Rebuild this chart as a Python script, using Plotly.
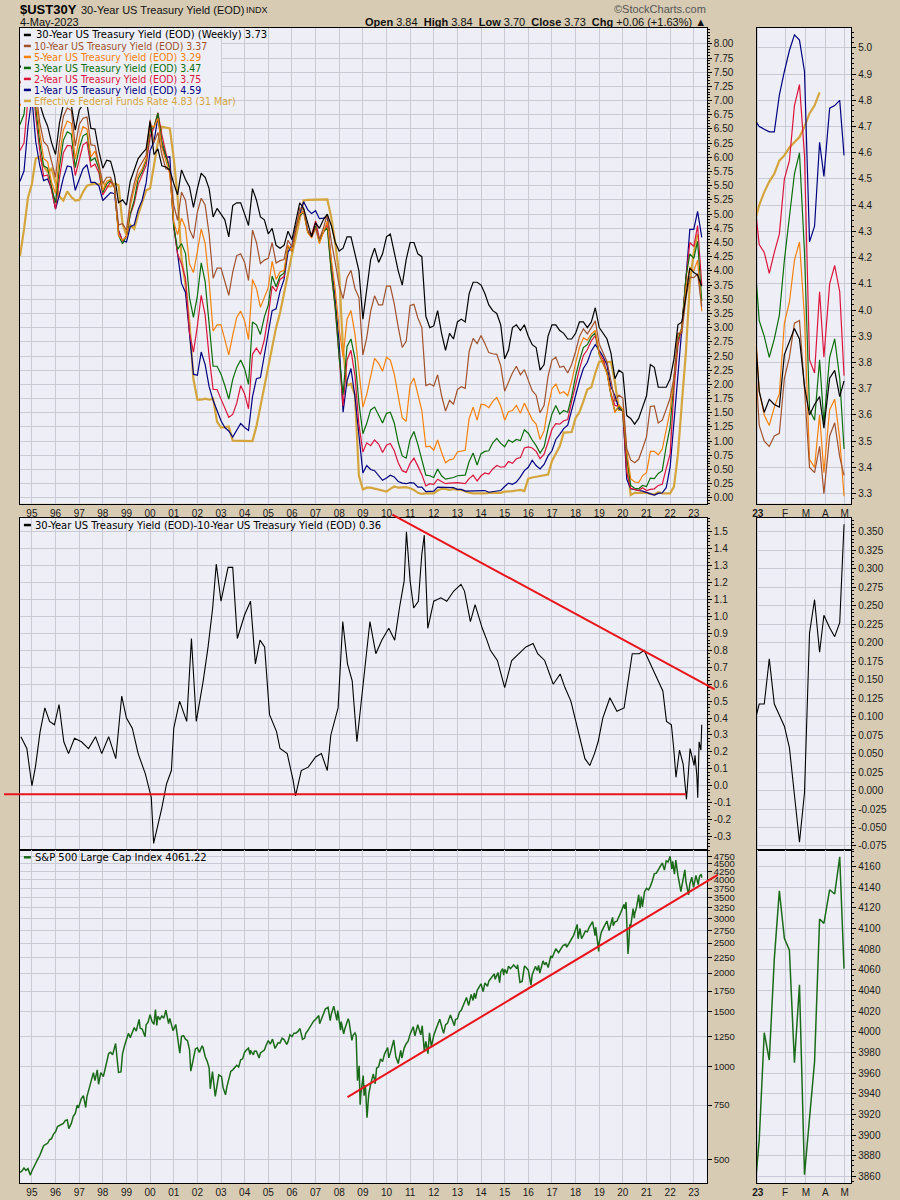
import math
from datetime import datetime
import plotly.graph_objects as go

W, H = 900, 1200

# ---------------------------------------------------------------- data
# bimonthly observation dates for the yield panel
yield_dates = (["1994-07-01", "1994-09-01", "1994-11-01"]
               + [f"{y}-{m:02d}-01" for y in range(1995, 2023) for m in (1, 3, 5, 7, 9, 11)]
               + ["2023-01-01", "2023-03-01", "2023-05-04"])

ust30 = [7.58, 7.71, 8.08,
         7.85, 7.45, 6.95, 6.72, 6.55, 6.26,
         6.05, 6.60, 6.93, 7.03, 6.92, 6.48,
         6.83, 6.93, 6.94, 6.51, 6.50, 6.11,
         5.81, 5.95, 5.93, 5.68, 5.20, 5.25,
         5.16, 5.58, 5.80, 5.98, 6.07, 6.15,
         6.63, 6.05, 6.15, 5.85, 5.83, 5.78,
         5.54, 5.34, 5.78, 5.61, 5.48, 5.12,
         5.45, 5.72, 5.65, 5.45, 4.95, 5.10,
         5.00, 4.90, 4.60, 5.15, 5.20, 5.20,
         5.00, 4.80, 5.45, 5.25, 4.95, 4.90,
         4.65, 4.75, 4.45, 4.40, 4.45, 4.70,
         4.55, 4.85, 5.20, 5.10, 4.85, 4.60,
         4.85, 4.75, 4.90, 5.00, 4.80, 4.50,
         4.35, 4.40, 4.60, 4.60, 4.30, 4.00,
         3.15, 3.65, 4.20, 4.40, 4.15, 4.30,
         4.60, 4.65, 4.30, 4.00, 3.75, 4.20,
         4.50, 4.50, 4.30, 4.25, 3.20, 3.00,
         3.03, 3.30, 2.90, 2.60, 2.90, 2.80,
         3.10, 3.15, 3.10, 3.60, 3.80, 3.80,
         3.75, 3.60, 3.40, 3.30, 3.25, 3.05,
         2.45, 2.60, 3.00, 3.05, 2.95, 3.05,
         2.85, 2.70, 2.65, 2.25, 2.35, 2.85,
         3.05, 3.05, 2.95, 2.90, 2.80, 2.80,
         2.90, 3.10, 3.10, 3.00, 3.10, 3.35,
         3.00, 2.90, 2.80, 2.55, 2.10, 2.25,
         2.20, 1.45, 1.40, 1.30, 1.40, 1.60,
         1.80, 2.35, 2.30, 1.95, 1.95, 1.95,
         2.10, 2.45, 3.05, 3.10, 3.55, 4.05,
         3.97, 3.93, 3.73]

ust10 = [7.30, 7.46, 7.96,
         7.78, 7.20, 6.62, 6.28, 6.20, 5.93,
         5.65, 6.27, 6.72, 6.87, 6.83, 6.20,
         6.58, 6.69, 6.71, 6.22, 6.21, 5.88,
         5.54, 5.65, 5.65, 5.46, 4.81, 4.83,
         4.72, 5.23, 5.54, 5.79, 5.90, 6.03,
         6.66, 6.26, 6.44, 6.05, 5.80, 5.78,
         5.16, 4.89, 5.39, 5.24, 4.73, 4.57,
         5.04, 5.28, 5.16, 4.65, 3.87, 4.05,
         4.05, 3.81, 3.57, 3.98, 4.27, 4.30,
         4.15, 3.83, 4.72, 4.50, 4.13, 4.19,
         4.22, 4.50, 4.14, 4.18, 4.20, 4.54,
         4.42, 4.72, 5.11, 5.09, 4.72, 4.60,
         4.76, 4.56, 4.75, 5.00, 4.52, 4.15,
         3.74, 3.51, 3.88, 4.01, 3.69, 3.53,
         2.52, 2.82, 3.29, 3.56, 3.40, 3.40,
         3.73, 3.73, 3.42, 3.01, 2.65, 2.76,
         3.39, 3.41, 3.17, 3.00, 1.98, 2.01,
         1.97, 2.17, 1.80, 1.53, 1.72, 1.65,
         1.91, 1.96, 1.93, 2.58, 2.81, 2.72,
         2.86, 2.72, 2.56, 2.54, 2.53, 2.33,
         1.88, 2.04, 2.20, 2.32, 2.17, 2.26,
         2.09, 1.89, 1.81, 1.50, 1.63, 2.14,
         2.43, 2.48, 2.30, 2.32, 2.20, 2.35,
         2.58, 2.84, 2.98, 2.89, 3.00, 3.12,
         2.71, 2.57, 2.40, 2.06, 1.70, 1.81,
         1.76, 0.87, 0.67, 0.62, 0.68, 0.87,
         1.08, 1.61, 1.62, 1.32, 1.37, 1.56,
         1.76, 2.13, 2.90, 2.90, 3.52, 3.89,
         3.88, 3.95, 3.37]

ust5 = [6.91, 7.03, 7.72,
        7.76, 7.05, 6.45, 5.98, 5.92, 5.56,
        5.36, 6.02, 6.48, 6.64, 6.60, 5.97,
        6.33, 6.54, 6.50, 6.01, 6.11, 5.87,
        5.42, 5.58, 5.61, 5.46, 4.62, 4.54,
        4.60, 5.14, 5.44, 5.68, 5.80, 5.97,
        6.58, 6.53, 6.69, 6.18, 5.93, 5.70,
        4.86, 4.64, 4.93, 4.76, 4.12, 3.97,
        4.34, 4.74, 4.48, 3.81, 2.94, 3.05,
        3.05, 2.78, 2.52, 2.87, 3.18, 3.29,
        3.12, 2.79, 3.85, 3.69, 3.36, 3.53,
        3.71, 4.17, 3.85, 3.98, 4.01, 4.45,
        4.35, 4.72, 5.00, 5.04, 4.67, 4.58,
        4.75, 4.48, 4.67, 4.88, 4.20, 3.67,
        2.98, 2.48, 3.15, 3.30, 2.88, 2.29,
        1.60, 1.82, 2.13, 2.46, 2.37, 2.23,
        2.48, 2.43, 2.18, 1.76, 1.41, 1.35,
        1.99, 2.11, 1.84, 1.54, 0.90, 0.91,
        0.84, 1.02, 0.80, 0.62, 0.67, 0.69,
        0.81, 0.82, 0.84, 1.40, 1.60, 1.37,
        1.65, 1.64, 1.59, 1.70, 1.77, 1.62,
        1.37, 1.52, 1.54, 1.63, 1.49, 1.67,
        1.52, 1.38, 1.30, 1.03, 1.18, 1.60,
        1.92, 2.01, 1.84, 1.87, 1.80, 2.05,
        2.38, 2.65, 2.82, 2.78, 2.89, 2.95,
        2.54, 2.37, 2.19, 1.83, 1.50, 1.64,
        1.56, 0.82, 0.34, 0.28, 0.27, 0.39,
        0.45, 0.82, 0.82, 0.76, 0.86, 1.20,
        1.54, 2.11, 2.87, 2.96, 3.70, 4.06,
        4.00, 4.19, 3.29]

ust3 = [6.58, 6.76, 7.44,
        7.66, 6.89, 6.27, 5.85, 5.81, 5.48,
        5.20, 5.82, 6.30, 6.45, 6.41, 5.82,
        6.16, 6.38, 6.42, 5.94, 5.99, 5.80,
        5.38, 5.53, 5.60, 5.48, 4.62, 4.48,
        4.61, 5.00, 5.25, 5.62, 5.75, 5.94,
        6.49, 6.53, 6.78, 6.28, 6.02, 5.78,
        4.77, 4.38, 4.48, 4.31, 3.53, 3.18,
        3.56, 4.14, 3.81, 3.07, 2.32, 2.32,
        2.18, 1.98, 1.74, 2.09, 2.30, 2.43,
        2.27, 2.00, 3.10, 3.05, 2.88, 3.19,
        3.40, 3.91, 3.72, 3.91, 3.96, 4.43,
        4.35, 4.74, 4.97, 5.04, 4.69, 4.60,
        4.79, 4.51, 4.69, 4.76, 3.97, 3.35,
        2.48, 1.82, 2.67, 2.80, 2.46, 1.67,
        1.13, 1.31, 1.55, 1.60, 1.45, 1.32,
        1.49, 1.51, 1.32, 0.98, 0.74, 0.70,
        1.03, 1.17, 0.94, 0.68, 0.40, 0.39,
        0.36, 0.51, 0.39, 0.33, 0.34, 0.36,
        0.39, 0.39, 0.40, 0.64, 0.79, 0.58,
        0.78, 0.82, 0.83, 0.97, 1.05, 0.96,
        0.90, 1.02, 0.98, 1.03, 1.01, 1.20,
        1.14, 1.02, 0.92, 0.79, 0.90, 1.22,
        1.48, 1.63, 1.48, 1.54, 1.51, 1.79,
        2.15, 2.42, 2.65, 2.70, 2.84, 2.91,
        2.52, 2.37, 2.21, 1.80, 1.52, 1.61,
        1.53, 0.73, 0.22, 0.17, 0.16, 0.22,
        0.20, 0.35, 0.34, 0.43, 0.48, 0.91,
        1.25, 2.10, 2.79, 3.00, 3.88, 4.30,
        4.22, 4.52, 3.47]

ust2 = [6.12, 6.25, 7.03,
        7.51, 6.72, 6.13, 5.67, 5.69, 5.42,
        5.09, 5.63, 6.08, 6.21, 6.20, 5.68,
        5.97, 6.22, 6.27, 5.83, 5.88, 5.73,
        5.34, 5.46, 5.57, 5.48, 4.71, 4.52,
        4.62, 4.99, 5.19, 5.52, 5.68, 5.86,
        6.36, 6.53, 6.79, 6.40, 6.08, 5.81,
        4.76, 4.30, 4.12, 3.87, 2.91, 2.57,
        3.03, 3.57, 3.22, 2.49, 1.91, 1.91,
        1.74, 1.57, 1.42, 1.47, 1.67, 1.98,
        1.83, 1.57, 2.53, 2.64, 2.53, 2.79,
        3.22, 3.73, 3.64, 3.85, 3.90, 4.43,
        4.35, 4.74, 4.96, 5.06, 4.71, 4.64,
        4.88, 4.57, 4.67, 4.82, 3.99, 3.34,
        2.48, 1.62, 2.43, 2.60, 2.15, 1.29,
        0.81, 0.97, 0.92, 1.02, 0.95, 0.80,
        0.93, 0.96, 0.83, 0.62, 0.48, 0.45,
        0.61, 0.70, 0.56, 0.41, 0.21, 0.25,
        0.24, 0.33, 0.29, 0.25, 0.26, 0.27,
        0.27, 0.26, 0.25, 0.34, 0.40, 0.30,
        0.39, 0.44, 0.42, 0.51, 0.57, 0.54,
        0.55, 0.64, 0.61, 0.69, 0.71, 0.88,
        0.90, 0.88, 0.82, 0.69, 0.77, 0.98,
        1.21, 1.31, 1.30, 1.36, 1.38, 1.70,
        2.00, 2.27, 2.51, 2.61, 2.77, 2.86,
        2.55, 2.44, 2.21, 1.84, 1.63, 1.61,
        1.52, 0.45, 0.17, 0.15, 0.13, 0.18,
        0.13, 0.15, 0.16, 0.22, 0.24, 0.52,
        0.78, 1.91, 2.68, 3.02, 3.86, 4.50,
        4.43, 4.80, 3.75]

ust1 = [5.58, 5.76, 6.54,
        7.05, 6.28, 5.87, 5.59, 5.62, 5.44,
        5.09, 5.34, 5.64, 5.85, 5.83, 5.42,
        5.61, 5.80, 5.87, 5.56, 5.56, 5.50,
        5.24, 5.31, 5.38, 5.36, 4.71, 4.53,
        4.51, 4.78, 4.81, 5.08, 5.25, 5.55,
        6.12, 6.28, 6.71, 6.22, 6.00, 6.01,
        4.81, 4.30, 3.78, 3.62, 2.82, 2.18,
        2.16, 2.57, 2.35, 1.96, 1.72, 1.53,
        1.36, 1.24, 1.18, 1.07, 1.18, 1.31,
        1.24, 1.19, 1.78, 2.10, 2.12, 2.50,
        2.86, 3.30, 3.33, 3.64, 3.85, 4.33,
        4.45, 4.77, 5.00, 5.22, 5.08, 5.01,
        5.06, 4.92, 4.93, 4.96, 4.14, 3.50,
        2.71, 1.51, 2.06, 2.28, 1.78, 1.07,
        0.44, 0.57, 0.50, 0.48, 0.40, 0.31,
        0.35, 0.40, 0.37, 0.29, 0.26, 0.25,
        0.27, 0.26, 0.19, 0.19, 0.11, 0.11,
        0.12, 0.19, 0.19, 0.19, 0.18, 0.18,
        0.15, 0.15, 0.12, 0.12, 0.12, 0.12,
        0.12, 0.13, 0.10, 0.11, 0.11, 0.13,
        0.20, 0.26, 0.24, 0.28, 0.37, 0.48,
        0.54, 0.66, 0.57, 0.51, 0.59, 0.74,
        0.83, 1.03, 1.12, 1.22, 1.28, 1.56,
        1.80, 2.06, 2.28, 2.39, 2.59, 2.70,
        2.60, 2.49, 2.34, 1.96, 1.80, 1.57,
        1.53, 0.33, 0.16, 0.14, 0.13, 0.12,
        0.10, 0.08, 0.05, 0.08, 0.09, 0.18,
        0.55, 1.34, 2.10, 2.99, 3.86, 4.73,
        4.73, 5.05, 4.59]

fed_funds = [4.26, 4.73, 5.29,
             5.53, 5.98, 6.01, 5.85, 5.74, 5.80,
             5.56, 5.31, 5.24, 5.40, 5.30, 5.24,
             5.25, 5.39, 5.50, 5.52, 5.54, 5.52,
             5.56, 5.49, 5.49, 5.54, 5.51, 4.83,
             4.63, 4.81, 4.74, 4.99, 5.22, 5.42,
             5.45, 5.85, 6.27, 6.54, 6.52, 6.51,
             5.98, 5.31, 4.21, 3.77, 3.07, 2.09,
             1.73, 1.73, 1.75, 1.73, 1.75, 1.34,
             1.24, 1.25, 1.26, 1.01, 1.01, 1.00,
             1.00, 1.00, 1.00, 1.26, 1.61, 1.93,
             2.28, 2.63, 3.00, 3.26, 3.62, 4.00,
             4.29, 4.59, 4.94, 5.24, 5.25, 5.25,
             5.25, 5.26, 5.25, 5.26, 4.94, 4.49,
             3.94, 2.61, 1.98, 2.01, 1.81, 0.39,
             0.15, 0.18, 0.18, 0.16, 0.15, 0.12,
             0.11, 0.16, 0.20, 0.18, 0.19, 0.19,
             0.17, 0.14, 0.09, 0.07, 0.08, 0.08,
             0.08, 0.13, 0.16, 0.16, 0.14, 0.16,
             0.14, 0.14, 0.11, 0.09, 0.08, 0.08,
             0.07, 0.08, 0.09, 0.09, 0.09, 0.09,
             0.11, 0.11, 0.12, 0.13, 0.14, 0.12,
             0.34, 0.36, 0.37, 0.39, 0.40, 0.41,
             0.65, 0.79, 0.91, 1.15, 1.15, 1.16,
             1.41, 1.51, 1.70, 1.91, 1.95, 2.20,
             2.40, 2.41, 2.39, 2.40, 2.04, 1.55,
             1.55, 0.65, 0.05, 0.09, 0.09, 0.09,
             0.09, 0.07, 0.06, 0.10, 0.08, 0.08,
             0.08, 0.20, 0.77, 1.68, 2.56, 3.78,
             4.33, 4.65, None]

# weekly closes shown in the right-hand zoom panels
week_dates = ["2022-12-30", "2023-01-06", "2023-01-13", "2023-01-20", "2023-01-27",
              "2023-02-03", "2023-02-10", "2023-02-17", "2023-02-24", "2023-03-03",
              "2023-03-10", "2023-03-17", "2023-03-24", "2023-03-31", "2023-04-06",
              "2023-04-14", "2023-04-21", "2023-04-28", "2023-05-04"]
wk30 = [3.97, 3.69, 3.61, 3.66, 3.64, 3.63, 3.83, 3.88, 3.93, 3.89, 3.71, 3.60, 3.64, 3.67, 3.55, 3.74, 3.77, 3.67, 3.73]
wk10 = [3.88, 3.56, 3.50, 3.48, 3.52, 3.53, 3.74, 3.82, 3.95, 3.96, 3.70, 3.40, 3.38, 3.48, 3.30, 3.52, 3.57, 3.44, 3.37]
wk5 = [4.00, 3.69, 3.60, 3.56, 3.63, 3.68, 3.95, 4.03, 4.19, 4.26, 3.97, 3.43, 3.40, 3.60, 3.38, 3.62, 3.66, 3.51, 3.29]
wk3 = [4.22, 3.96, 3.90, 3.82, 3.89, 3.98, 4.19, 4.35, 4.52, 4.60, 4.22, 3.62, 3.58, 3.81, 3.57, 3.82, 3.89, 3.74, 3.47]
wk2 = [4.43, 4.25, 4.22, 4.14, 4.22, 4.29, 4.50, 4.57, 4.78, 4.86, 4.59, 3.81, 3.76, 4.07, 3.82, 4.10, 4.17, 4.07, 3.75]
wk1 = [4.73, 4.70, 4.69, 4.68, 4.68, 4.82, 4.91, 4.99, 5.05, 5.03, 4.91, 4.26, 4.32, 4.64, 4.51, 4.77, 4.78, 4.80, 4.59]
wkff = [4.33, 4.40, 4.45, 4.49, 4.52, 4.57, 4.59, 4.62, 4.64, 4.66, 4.70, 4.75, 4.78, 4.83, None, None, None, None, None]
wk_spread = [0.09, 0.117, 0.117, 0.178, 0.117, 0.101, 0.087, 0.058, -0.007, -0.070, -0.003, 0.213, 0.258, 0.187, 0.237, 0.220, 0.208, 0.227, 0.360]
wk_spx = [3839.5, 3895.1, 3999.1, 3972.6, 4070.6, 4136.5, 4090.5, 4079.1, 3970.0, 4045.6, 3861.6, 3916.6, 3971.0, 4109.3, 4105.0, 4137.6, 4133.5, 4169.5, 4061.2]

# 30y - 10y spread
spread_dates = [
    "1994-07-15", "1994-10-15",
    "1995-01-01", "1995-02-24", "1995-05-08", "1995-07-20", "1995-10-01", "1995-12-15",
    "1996-02-24", "1996-05-08", "1996-07-20", "1996-10-20",
    "1997-02-05", "1997-05-25", "1997-09-10", "1997-12-15",
    "1998-04-01", "1998-07-20", "1998-10-20",
    "1999-01-01", "1999-04-01", "1999-07-01", "1999-10-20",
    "2000-01-20", "2000-02-25", "2000-04-20", "2000-07-01", "2000-09-10", "2000-11-25",
    "2001-01-01", "2001-04-01", "2001-07-20", "2001-10-01", "2001-12-15",
    "2002-04-01", "2002-06-15", "2002-08-25", "2002-10-20",
    "2003-01-01", "2003-04-20", "2003-07-01", "2003-09-10",
    "2004-01-01", "2004-04-01", "2004-06-15", "2004-08-25", "2004-11-05",
    "2005-01-20", "2005-05-08", "2005-07-01", "2005-10-20",
    "2006-01-20", "2006-02-25", "2006-05-25", "2006-09-10",
    "2007-01-01", "2007-04-01", "2007-07-01", "2007-08-25", "2007-12-15",
    "2008-02-25", "2008-05-08", "2008-07-20", "2008-10-01", "2008-11-25",
    "2009-02-05", "2009-04-20", "2009-07-20", "2009-10-20",
    "2010-02-05", "2010-05-08", "2010-07-20", "2010-10-01", "2010-11-05",
    "2011-01-01", "2011-02-25", "2011-05-08", "2011-07-01", "2011-08-08", "2011-10-01",
    "2012-01-01", "2012-04-20", "2012-07-20", "2012-11-05",
    "2013-02-25", "2013-04-20", "2013-07-20", "2013-10-01",
    "2014-01-20", "2014-04-01", "2014-05-25", "2014-09-10",
    "2015-01-01", "2015-04-20", "2015-08-08", "2015-11-25",
    "2016-03-15", "2016-05-25", "2016-09-10", "2016-11-25",
    "2017-01-20", "2017-05-08", "2017-07-20", "2017-10-20",
    "2018-01-01", "2018-03-15", "2018-05-25", "2018-08-08", "2018-10-20", "2018-12-15",
    "2019-02-25", "2019-06-15", "2019-10-01",
    "2020-01-20", "2020-04-01", "2020-05-25", "2020-09-10", "2020-11-25",
    "2021-02-05", "2021-04-20", "2021-07-01", "2021-09-10", "2021-11-05",
    "2022-01-20", "2022-02-25", "2022-04-01", "2022-05-25", "2022-07-20", "2022-09-10", "2022-11-05",
    "2023-01-06", "2023-01-20", "2023-02-17", "2023-03-03", "2023-03-24", "2023-04-21", "2023-05-04"]
spread_vals = [
    0.29, 0.22,
    0.00, 0.11, 0.32, 0.46, 0.38, 0.36,
    0.48, 0.26, 0.19, 0.28,
    0.26, 0.22, 0.29, 0.19,
    0.29, 0.16, 0.53,
    0.40, 0.34, 0.19, 0.07,
    -0.07, -0.34, -0.25, -0.13, 0.01, 0.09,
    0.34, 0.50, 0.38, 0.87, 0.38,
    0.62, 0.82, 1.05, 1.31,
    1.09, 1.29, 1.29, 0.87,
    1.01, 1.09, 0.72, 0.86, 0.82,
    0.42, 0.32, 0.22, 0.19,
    0.03, -0.06, 0.09, 0.11,
    0.17, 0.19, 0.09, 0.30, 0.46,
    0.97, 0.72, 0.62, 0.26, 0.46,
    0.74, 0.97, 0.78, 0.86,
    0.93, 0.86, 1.05, 1.21, 1.50,
    1.21, 1.05, 1.09, 1.37, 1.48, 0.93,
    1.09, 1.11, 1.09, 1.15,
    1.19, 1.15, 0.97, 1.07,
    0.93, 0.86, 0.80, 0.74,
    0.58, 0.74, 0.78, 0.82,
    0.84, 0.78, 0.74, 0.66,
    0.60, 0.66, 0.58, 0.50,
    0.38, 0.26, 0.16, 0.12, 0.19, 0.26,
    0.40, 0.52, 0.44,
    0.46, 0.64, 0.78, 0.78, 0.80,
    0.74, 0.68, 0.62, 0.56, 0.38,
    0.36, 0.22, 0.05, 0.21, 0.13, -0.08, 0.22,
    0.12, 0.18, 0.06, -0.07, 0.26, 0.21, 0.36]

# S&P 500 closes
spx_dates = [
    "1994-07-01", "1994-08-01", "1994-09-01", "1994-10-01", "1994-11-01", "1994-12-09",
    "1995-01-01", "1995-02-01", "1995-03-01", "1995-04-01", "1995-05-01", "1995-06-01",
    "1995-07-01", "1995-08-01", "1995-09-01", "1995-10-01", "1995-11-01", "1995-12-01",
    "1996-01-01", "1996-02-01", "1996-03-01", "1996-04-01", "1996-05-01", "1996-06-01",
    "1996-07-01", "1996-07-24", "1996-09-01", "1996-10-01", "1996-11-01", "1996-12-01", "1996-12-20",
    "1997-02-01", "1997-03-07", "1997-04-11", "1997-05-01", "1997-06-01", "1997-07-01",
    "1997-08-08", "1997-09-01", "1997-10-07", "1997-10-27", "1997-12-01",
    "1998-01-09", "1998-02-01", "1998-03-01", "1998-04-01", "1998-05-01", "1998-06-01",
    "1998-07-17", "1998-08-31", "1998-10-08", "1998-11-01", "1998-12-01",
    "1999-01-01", "1999-02-01", "1999-03-01", "1999-04-01", "1999-05-01", "1999-06-01",
    "1999-07-16", "1999-08-01", "1999-09-01", "1999-10-15", "1999-11-01", "1999-12-01",
    "2000-01-01", "2000-02-01", "2000-03-01", "2000-03-24", "2000-04-14", "2000-05-01", "2000-06-01",
    "2000-07-01", "2000-08-01", "2000-09-01", "2000-10-13", "2000-11-01", "2000-12-20",
    "2001-01-01", "2001-02-01", "2001-03-01", "2001-04-04", "2001-05-01", "2001-06-01",
    "2001-07-01", "2001-08-01", "2001-09-01", "2001-09-21", "2001-11-01", "2001-12-01",
    "2002-01-01", "2002-02-01", "2002-03-15", "2002-04-01", "2002-05-01", "2002-06-01",
    "2002-07-01", "2002-07-19", "2002-08-22", "2002-10-04", "2002-11-27",
    "2003-01-10", "2003-02-01", "2003-03-11", "2003-04-01", "2003-05-01", "2003-06-01",
    "2003-07-01", "2003-08-01", "2003-09-01", "2003-10-01", "2003-11-01", "2003-12-01",
    "2004-01-01", "2004-02-01", "2004-03-01", "2004-03-24", "2004-04-01", "2004-05-15", "2004-06-01",
    "2004-07-01", "2004-08-11", "2004-09-01", "2004-10-01", "2004-11-01", "2004-12-01",
    "2005-01-01", "2005-02-01", "2005-03-07", "2005-04-15", "2005-05-01", "2005-06-01",
    "2005-07-01", "2005-08-01", "2005-09-01", "2005-10-13", "2005-11-01", "2005-12-01",
    "2006-01-01", "2006-02-01", "2006-03-01", "2006-04-01", "2006-05-05", "2006-06-13",
    "2006-07-17", "2006-08-01", "2006-09-01", "2006-10-01", "2006-11-01", "2006-12-01",
    "2007-01-01", "2007-02-20", "2007-03-05", "2007-04-01", "2007-05-01", "2007-06-01",
    "2007-07-13", "2007-08-15", "2007-09-01", "2007-10-09", "2007-11-26", "2007-12-10",
    "2008-01-22", "2008-02-01", "2008-03-10", "2008-04-01", "2008-05-19", "2008-06-01", "2008-07-15",
    "2008-08-01", "2008-09-01", "2008-09-19", "2008-10-10", "2008-11-04", "2008-11-20", "2008-12-01",
    "2009-01-06", "2009-01-20", "2009-02-09", "2009-03-06", "2009-04-01", "2009-05-01", "2009-06-12",
    "2009-07-10", "2009-08-01", "2009-09-01", "2009-10-01", "2009-11-01", "2009-12-01",
    "2010-01-19", "2010-02-05", "2010-03-01", "2010-04-23", "2010-05-25", "2010-07-02",
    "2010-08-09", "2010-08-27", "2010-10-01", "2010-11-01", "2010-12-01",
    "2011-01-01", "2011-02-18", "2011-03-16", "2011-04-29", "2011-06-15", "2011-07-07",
    "2011-08-08", "2011-09-01", "2011-10-03", "2011-10-27", "2011-11-25",
    "2012-01-01", "2012-02-01", "2012-04-02", "2012-06-01", "2012-07-01", "2012-08-01",
    "2012-09-14", "2012-11-15", "2012-12-01",
    "2013-01-01", "2013-02-01", "2013-03-01", "2013-04-01", "2013-05-21", "2013-06-24",
    "2013-08-01", "2013-08-30", "2013-09-18", "2013-10-08", "2013-11-01", "2013-12-31",
    "2014-02-03", "2014-03-01", "2014-04-11", "2014-05-01", "2014-06-01", "2014-07-24",
    "2014-08-07", "2014-09-19", "2014-10-15", "2014-11-01", "2014-12-01", "2014-12-16",
    "2015-01-01", "2015-02-01", "2015-03-01", "2015-04-01", "2015-05-20", "2015-07-07",
    "2015-07-20", "2015-08-25", "2015-09-28", "2015-11-03", "2015-12-01",
    "2016-01-01", "2016-02-11", "2016-03-01", "2016-04-20", "2016-05-19", "2016-06-08",
    "2016-06-27", "2016-08-15", "2016-09-09", "2016-10-01", "2016-11-04", "2016-12-13",
    "2017-01-01", "2017-03-01", "2017-04-13", "2017-06-19", "2017-08-01", "2017-08-18",
    "2017-10-01", "2017-11-01", "2017-12-01",
    "2018-01-26", "2018-02-08", "2018-03-09", "2018-04-02", "2018-05-01", "2018-06-01",
    "2018-07-01", "2018-08-01", "2018-09-20", "2018-10-29", "2018-11-07", "2018-12-24",
    "2019-01-01", "2019-02-01", "2019-03-01", "2019-04-30", "2019-06-03", "2019-07-26",
    "2019-08-05", "2019-09-01", "2019-10-01", "2019-11-01", "2019-12-01",
    "2020-01-17", "2020-01-31", "2020-02-19", "2020-03-20", "2020-04-01", "2020-04-17",
    "2020-05-01", "2020-06-08", "2020-06-26", "2020-07-01", "2020-08-01", "2020-09-02",
    "2020-09-23", "2020-10-12", "2020-10-30", "2020-11-01", "2020-12-01",
    "2021-01-01", "2021-02-01", "2021-03-01", "2021-04-01", "2021-05-01", "2021-06-01",
    "2021-07-01", "2021-08-01", "2021-09-02", "2021-10-04", "2021-11-01", "2021-12-01", "2021-12-31",
    "2022-01-27", "2022-02-09", "2022-03-08", "2022-03-29", "2022-05-01", "2022-05-20", "2022-06-16",
    "2022-07-01", "2022-08-16", "2022-09-01", "2022-10-12", "2022-11-01", "2022-12-01", "2022-12-28",
    "2023-01-13", "2023-02-03", "2023-03-10", "2023-03-31", "2023-04-28", "2023-05-04"]
spx_close = [
    455, 460, 470, 462, 468, 446,
    460, 472, 487, 502, 515, 535,
    555, 560, 565, 580, 585, 605,
    615, 640, 645, 650, 655, 670,
    672, 630, 655, 690, 705, 750, 735,
    786, 805, 737, 801, 845, 885,
    955, 900, 975, 876, 955,
    927, 980, 1049, 1101, 1111, 1090,
    1186, 957, 960, 1098, 1164,
    1229, 1280, 1238, 1286, 1335, 1301,
    1418, 1328, 1320, 1247, 1362, 1389,
    1469, 1394, 1366, 1527, 1356, 1452, 1420,
    1455, 1431, 1518, 1374, 1429, 1305,
    1320, 1366, 1240, 1103, 1250, 1256,
    1224, 1211, 1134, 966, 1060, 1139,
    1148, 1110, 1166, 1147, 1077, 1040,
    990, 847, 962, 800, 938,
    927, 856, 810, 858, 916, 964,
    975, 990, 1008, 996, 1050, 1058,
    1112, 1131, 1145, 1092, 1126, 1090, 1121,
    1120, 1064, 1105, 1115, 1130, 1174,
    1212, 1181, 1225, 1143, 1157, 1192,
    1191, 1234, 1221, 1177, 1202, 1265,
    1248, 1280, 1280, 1295, 1325, 1223,
    1234, 1277, 1303, 1336, 1378, 1400,
    1418, 1459, 1374, 1420, 1482, 1531,
    1552, 1406, 1474, 1565, 1407, 1515,
    1310, 1395, 1273, 1330, 1426, 1400, 1214,
    1260, 1282, 1255, 899, 1005, 752, 816,
    935, 805, 870, 683, 811, 877, 946,
    879, 987, 998, 1057, 1036, 1096,
    1150, 1066, 1104, 1217, 1074, 1022,
    1127, 1064, 1146, 1184, 1206,
    1271, 1343, 1256, 1363, 1265, 1353,
    1119, 1204, 1099, 1284, 1158,
    1258, 1312, 1419, 1278, 1362, 1379,
    1466, 1353, 1416,
    1426, 1498, 1518, 1569, 1669, 1573,
    1706, 1633, 1725, 1656, 1757, 1848,
    1742, 1859, 1815, 1884, 1924, 1988,
    1910, 2010, 1862, 2018, 2067, 1972,
    2058, 1995, 2104, 2068, 2125, 2068,
    2128, 1867, 1881, 2109, 2080,
    2044, 1829, 1978, 2102, 2040, 2119,
    2001, 2190, 2128, 2168, 2085, 2271,
    2239, 2396, 2329, 2453, 2476, 2425,
    2519, 2575, 2648,
    2873, 2581, 2786, 2582, 2648, 2735,
    2718, 2816, 2930, 2641, 2813, 2351,
    2507, 2706, 2784, 2946, 2744, 3025,
    2844, 2926, 2940, 3066, 3141,
    3330, 3226, 3386, 2305, 2470, 2875,
    2831, 3232, 3009, 3100, 3271, 3580,
    3237, 3534, 3270, 3310, 3662,
    3756, 3714, 3811, 3973, 4181, 4204,
    4297, 4395, 4537, 4300, 4605, 4567, 4766,
    4326, 4587, 4170, 4631, 4132, 3901, 3667,
    3825, 4305, 3955, 3577, 3872, 4080, 3783,
    3999, 4136, 3862, 4109, 4169, 4061]

# hand-drawn trend lines (date, value)
spread_top_dates, spread_top_vals = ["2010-04-01", "2023-11-20"], [1.602, 0.570]
spread_floor_dates, spread_floor_vals = ["1993-10-27", "2022-09-01"], [-0.05, -0.05]
spx_trend_dates, spx_trend_vals = ["2008-05-08", "2024-01-05"], [796, 4150]

# axis ticks
year_ticks = [f"{y}-01-01" for y in range(1995, 2024)]
year_labels = [f"{y % 100:02d}" for y in range(1995, 2024)]
month_ticks = ["2023-01-04", "2023-02-11", "2023-03-12", "2023-04-08", "2023-05-05"]
month_labels = ["<b>23</b>", "F", "M", "A", "M"]
spx_ticks = [500, 750, 1000, 1250, 1500, 1750, 2000, 2250, 2500, 2750, 3000, 3250, 3500, 3750, 4000, 4250, 4500, 4750]

assert len(yield_dates) == len(ust30) == len(ust10) == len(ust5) == len(ust3) == len(ust2) == len(ust1) == len(fed_funds)
assert len(spread_dates) == len(spread_vals)
assert len(spx_dates) == len(spx_close)

# ---------------------------------------------------------------- style
PAPER = "#D7CBB3"
PLOT_BG = "#EEEFF6"
GRID = "#C9CAD6"
RED = "#E8151B"
FONT = "Liberation Sans, Arial, sans-serif"
NARROW = "DejaVu Sans Condensed, Liberation Sans, sans-serif"
WIDE = "DejaVu Sans, Verdana, sans-serif"
C30, C10, C5, C3, C2, C1, CFF = "#000000", "#A0522D", "#F7800A", "#0B6E0B", "#DC143C", "#000080", "#D4A53C"
SPX_GREEN = "#1B6B1B"

MAIN_RANGE = ["1994-06-30", "2023-07-22"]
SMALL_RANGE = ["2023-01-02 10:00", "2023-05-14"]
TOP_R, TOP_SR = [-0.10, 8.28], [3.262, 5.076]
MID_R, MID_SR = [-0.381, 1.584], [-0.0808, 0.369]
BOT_R = [math.log10(420.6), math.log10(4981)]
BOT_SR = [3853.5, 4175.8]


def dx(a, b):
    return [a / W, b / W]


def dy(top, bottom):
    return [1 - bottom / H, 1 - top / H]


MAIN_X, SMALL_X = dx(16, 706), dx(756, 851)
TOP_Y, MID_Y, BOT_Y = dy(28, 504), dy(518, 851), dy(851, 1184)

fig = go.Figure()


def line(x, y, xa, ya, color, width):
    fig.add_trace(go.Scatter(x=x, y=y, mode="lines", line=dict(color=color, width=width),
                             xaxis=xa, yaxis=ya, hoverinfo="skip", showlegend=False,
                             connectgaps=False))


series = [(fed_funds, wkff, CFF, 2.2), (ust1, wk1, C1, 1.2), (ust2, wk2, C2, 1.2),
          (ust3, wk3, C3, 1.2), (ust5, wk5, C5, 1.2), (ust10, wk10, C10, 1.2), (ust30, wk30, C30, 1.2)]
for main_vals, wk_vals, col, wd in series:
    line(yield_dates, main_vals, "x", "y", col, wd)
    line(week_dates, wk_vals, "x2", "y2", col, wd)

line(spread_dates, spread_vals, "x3", "y3", "#000000", 1.1)
line(week_dates, wk_spread, "x4", "y4", "#000000", 1.1)
line(spx_dates, spx_close, "x5", "y5", SPX_GREEN, 1.5)
line(week_dates, wk_spx, "x6", "y6", SPX_GREEN, 1.5)

base = dict(showline=True, linecolor="black", linewidth=1, mirror=True, showgrid=True,
            gridcolor=GRID, gridwidth=1, zeroline=False, fixedrange=True,
            tickfont=dict(family=FONT, size=10, color="#1a1a1a"))


def xmain(anchor, labels):
    return dict(base, type="date", domain=MAIN_X, anchor=anchor, range=MAIN_RANGE,
                tickmode="array", tickvals=year_ticks, ticktext=year_labels, ticks="",
                showticklabels=labels)


def xsmall(anchor, labels):
    return dict(base, type="date", domain=SMALL_X, anchor=anchor, range=SMALL_RANGE,
                tickmode="array", tickvals=month_ticks, ticktext=month_labels, ticks="",
                showticklabels=labels)


def yax(anchor, domain, rng, vals, texts, minor=None, typ="linear", fsize=10):
    d = dict(base, type=typ, domain=domain, anchor=anchor, side="right", range=rng,
             tickmode="array", tickvals=vals, ticktext=texts, ticks="outside", ticklen=4,
             tickcolor="black", tickfont=dict(family=FONT, size=fsize, color="#1a1a1a"))
    if minor:
        d["minor"] = dict(ticks="outside", ticklen=2, tickcolor="black", dtick=minor,
                          tick0=0, showgrid=False)
    return d


top_vals = [i * 0.25 for i in range(0, 33)]
top_svals = [i / 10 for i in range(33, 51)]
mid_vals = [i / 10 for i in range(-3, 16)]
mid_svals = [i * 0.025 for i in range(-3, 15)]
bot_svals = list(range(3860, 4161, 20))

fig.update_layout(
    width=W, height=H, autosize=False,
    margin=dict(l=0, r=0, t=0, b=0, pad=0),
    paper_bgcolor=PAPER, plot_bgcolor=PLOT_BG,
    showlegend=False,
    xaxis=xmain("y", True), xaxis2=xsmall("y2", True),
    xaxis3=xmain("y3", False), xaxis4=xsmall("y4", False),
    xaxis5=xmain("y5", True), xaxis6=xsmall("y6", True),
    yaxis=yax("x", TOP_Y, TOP_R, top_vals, [f"{v:.2f}" for v in top_vals], 0.05),
    yaxis2=yax("x2", TOP_Y, TOP_SR, top_svals, [f"{v:.1f}" for v in top_svals], 0.02),
    yaxis3=yax("x3", MID_Y, MID_R, mid_vals, [f"{v:.1f}" for v in mid_vals], 0.02),
    yaxis4=yax("x4", MID_Y, MID_SR, mid_svals, [f"{v:.3f}" for v in mid_svals], 0.005),
    yaxis5=yax("x5", BOT_Y, BOT_R, spx_ticks, [str(v) for v in spx_ticks], None, "log", 9.5),
    yaxis6=yax("x6", BOT_Y, BOT_SR, bot_svals, [str(v) for v in bot_svals], 5),
)


# ---------------------------------------------------------------- trend lines
def tnum(s):
    return datetime.fromisoformat(s).timestamp()


def xfrac(d):
    return (tnum(d) - tnum(MAIN_RANGE[0])) / (tnum(MAIN_RANGE[1]) - tnum(MAIN_RANGE[0]))


def yfrac(v, rng, log=False):
    v = math.log10(v) if log else v
    return (v - rng[0]) / (rng[1] - rng[0])


shapes = []
for dates, vals, xr, yr, rng, lg in [
        (spread_top_dates, spread_top_vals, "x3 domain", "y3 domain", MID_R, False),
        (spread_floor_dates, spread_floor_vals, "x3 domain", "y3 domain", MID_R, False),
        (spx_trend_dates, spx_trend_vals, "x5 domain", "y5 domain", BOT_R, True)]:
    shapes.append(dict(type="line", xref=xr, yref=yr,
                       x0=xfrac(dates[0]), y0=yfrac(vals[0], rng, lg),
                       x1=xfrac(dates[1]), y1=yfrac(vals[1], rng, lg),
                       line=dict(color=RED, width=2), layer="above"))

# legend backdrop in the top panel
shapes.append(dict(type="rect", xref="paper", yref="paper", x0=17 / W, x1=218 / W,
                   y0=1 - 107 / H, y1=1 - 29 / H, fillcolor=PLOT_BG,
                   line=dict(width=0), layer="above"))

annotations = []


def ann(text, x, y, size, color="#000", family=FONT, xanchor="left"):
    annotations.append(dict(text=text, x=x / W, y=1 - y / H, xref="paper", yref="paper",
                            xanchor=xanchor, yanchor="middle", showarrow=False,
                            font=dict(size=size, color=color, family=family)))


def swatch(x, y, color):
    shapes.append(dict(type="line", xref="paper", yref="paper", x0=x / W, x1=(x + 7) / W,
                       y0=1 - y / H, y1=1 - y / H, line=dict(color=color, width=2.5),
                       layer="above"))


# header
ann("<b>$UST30Y</b>", 14, 10, 13, "#000", FONT)
ann("30-Year US Treasury Yield (EOD)", 75, 10.5, 11, "#111", FONT)
ann("INDX", 241, 10.5, 9, "#111", FONT)
ann("4-May-2023", 14, 22.5, 11, "#111", FONT)
ann("©StockCharts.com", 707, 9, 11, "#555", FONT, "right")
ann("<b>Open</b> 3.84  <b>High</b> 3.84  <b>Low</b> 3.70  <b>Close</b> 3.73  "
    "<b>Chg</b> +0.06 (+1.63%) ▲", 707, 22.5, 11, "#111", FONT, "right")

# top legend
legend_rows = [
    ("30-Year US Treasury Yield (EOD) (Weekly) 3.73", C30, WIDE, 10),
    ("10-Year US Treasury Yield (EOD) 3.37", C10, NARROW, 10.5),
    ("5-Year US Treasury Yield (EOD) 3.29", C5, NARROW, 10.5),
    ("3-Year US Treasury Yield (EOD) 3.47", C3, NARROW, 10.5),
    ("2-Year US Treasury Yield (EOD) 3.75", C2, NARROW, 10.5),
    ("1-Year US Treasury Yield (EOD) 4.59", C1, NARROW, 10.5),
    ("Effective Federal Funds Rate 4.83 (31 Mar)", CFF, NARROW, 10.5),
]
for i, (txt, col, fam, sz) in enumerate(legend_rows):
    yy = 35 + 11 * i
    swatch(20, yy, col)
    ann(txt, 28 if i else 30, yy, sz, col, fam)

swatch(20, 525.5, "#000")
ann("30-Year US Treasury Yield (EOD)-10-Year US Treasury Yield (EOD) 0.36", 29, 525.5, 10, "#000", WIDE)
swatch(20, 858, SPX_GREEN)
ann("S&P 500 Large Cap Index 4061.22", 29, 858, 10, "#000", WIDE)

fig.update_layout(shapes=shapes, annotations=annotations)
fig.write_html("out.html", config={"displayModeBar": False},
               post_script="document.body.style.margin='0';document.body.style.overflow='hidden';")
